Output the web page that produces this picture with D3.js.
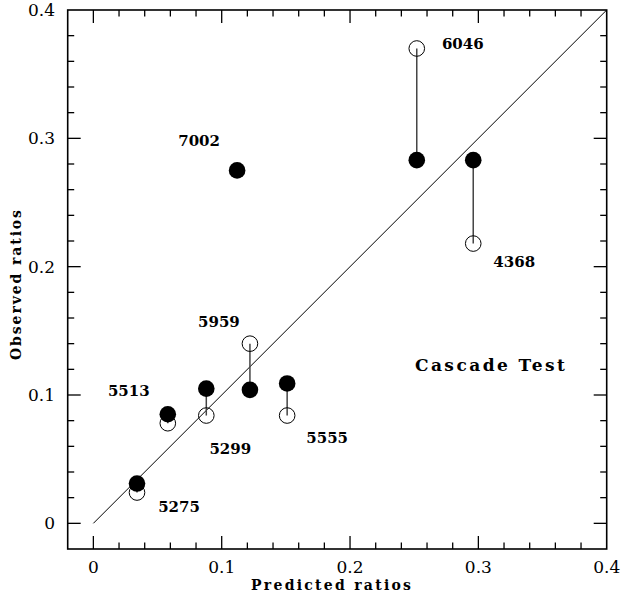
<!DOCTYPE html>
<html>
<head>
<meta charset="utf-8">
<script src="https://cdn.jsdelivr.net/npm/d3@7"></script>
<style>
  body { margin: 0; background: #fff; }
  svg { display: block; }
</style>
</head>
<body>
<div id="chart"></div>
<script>
// galaxy ids, predicted ratio, observed ratio (filled / open markers)
var galaxies   = ["5275", "5513", "5299", "5959", "5555", "7002", "6046", "4368"];
var predicted  = [0.034, 0.058, 0.088, 0.122, 0.151, 0.112, 0.252, 0.296];
var obsFilled  = [0.031, 0.085, 0.105, 0.104, 0.109, 0.275, 0.283, 0.283];
var obsOpen    = [0.024, 0.078, 0.084, 0.140, 0.084, null, 0.370, 0.218];

var majorTicks = [0, 0.1, 0.2, 0.3, 0.4];
var tickLabels = ["0", "0.1", "0.2", "0.3", "0.4"];

// label placement, pixel offset from the filled marker (layout only)
var labelOffsets = [[42, 28], [-39, -18], [24, 65], [-31, -63], [40, 60], [-38, -24], [46, -111], [41, 107]];

var W = 621, H = 597;
// plot box (note: "top" is a reserved window global, so use a box object)
var box = {left: 67.7, right: 606.7, top: 10, bottom: 549};

var svg = d3.select("#chart").append("svg")
    .attr("width", W)
    .attr("height", H);

var x = d3.scaleLinear().domain([-0.02, 0.4]).range([box.left, box.right]);
var y = d3.scaleLinear().domain([-0.02, 0.4]).range([box.bottom, box.top]);

// frame
svg.append("rect")
    .attr("x", box.left).attr("y", box.top)
    .attr("width", box.right - box.left).attr("height", box.bottom - box.top)
    .attr("fill", "none").attr("stroke", "#000").attr("stroke-width", 1.6);

// ticks on all four sides, pointing inward
var minor = d3.range(0, 0.4001, 0.02).map(function (d) { return +d.toFixed(2); });
function isMajor(d) { return Math.abs(d * 10 - Math.round(d * 10)) < 1e-6; }
var tickG = svg.append("g").attr("stroke", "#000").attr("stroke-width", 1.3);
minor.forEach(function (d) {
    var len = isMajor(d) ? 13 : 6.5;
    if (x(d) > box.left + 1 && x(d) < box.right - 1) {
        tickG.append("line").attr("x1", x(d)).attr("x2", x(d)).attr("y1", box.bottom).attr("y2", box.bottom - len);
        tickG.append("line").attr("x1", x(d)).attr("x2", x(d)).attr("y1", box.top).attr("y2", box.top + len);
    }
    if (y(d) > box.top + 1 && y(d) < box.bottom - 1) {
        tickG.append("line").attr("y1", y(d)).attr("y2", y(d)).attr("x1", box.left).attr("x2", box.left + len);
        tickG.append("line").attr("y1", y(d)).attr("y2", y(d)).attr("x1", box.right).attr("x2", box.right - len);
    }
});

// tick labels
svg.selectAll(".xlab").data(majorTicks).enter().append("text")
    .attr("class", "xlab")
    .attr("x", function (d) { return x(d); })
    .attr("y", 573)
    .attr("text-anchor", "middle")
    .style("font-family", "DejaVu Serif")
    .style("font-size", "17px")
    .text(function (d, i) { return tickLabels[i]; });

svg.selectAll(".ylab").data(majorTicks).enter().append("text")
    .attr("class", "ylab")
    .attr("x", 55)
    .attr("y", function (d) { return y(d) + 6; })
    .attr("text-anchor", "end")
    .style("font-family", "DejaVu Serif")
    .style("font-size", "17px")
    .text(function (d, i) { return tickLabels[i]; });

// axis titles
svg.append("text")
    .attr("x", 331)
    .attr("y", 590)
    .attr("text-anchor", "middle")
    .attr("textLength", 160).attr("lengthAdjust", "spacing")
    .style("font-family", "DejaVu Serif")
    .style("font-weight", "bold")
    .style("font-size", "14px")
    .text("Predicted ratios");

svg.append("text")
    .attr("transform", "translate(21,285) rotate(-90)")
    .attr("text-anchor", "middle")
    .attr("textLength", 150).attr("lengthAdjust", "spacing")
    .style("font-family", "DejaVu Serif")
    .style("font-weight", "bold")
    .style("font-size", "14px")
    .text("Observed ratios");

// one-to-one line
svg.append("line")
    .attr("x1", x(0)).attr("y1", y(0))
    .attr("x2", x(0.4)).attr("y2", y(0.4))
    .attr("stroke", "#000").attr("stroke-width", 1);

var pts = galaxies.map(function (g, i) {
    return { id: g, px: predicted[i], f: obsFilled[i], o: obsOpen[i], off: labelOffsets[i] };
});

// connectors between open and filled markers
svg.selectAll(".conn").data(pts.filter(function (d) { return d.o !== null; })).enter().append("line")
    .attr("class", "conn")
    .attr("x1", function (d) { return x(d.px); })
    .attr("x2", function (d) { return x(d.px); })
    .attr("y1", function (d) { return y(d.f); })
    .attr("y2", function (d) { return y(d.o); })
    .attr("stroke", "#444").attr("stroke-width", 1.5);

// open markers
svg.selectAll(".open").data(pts.filter(function (d) { return d.o !== null; })).enter().append("circle")
    .attr("class", "open")
    .attr("cx", function (d) { return x(d.px); })
    .attr("cy", function (d) { return y(d.o); })
    .attr("r", 7.8)
    .attr("fill", "none").attr("stroke", "#000").attr("stroke-width", 1);

// filled markers
svg.selectAll(".filled").data(pts).enter().append("circle")
    .attr("class", "filled")
    .attr("cx", function (d) { return x(d.px); })
    .attr("cy", function (d) { return y(d.f); })
    .attr("r", 8.3)
    .attr("fill", "#000");

// galaxy labels
svg.selectAll(".glab").data(pts).enter().append("text")
    .attr("class", "glab")
    .attr("x", function (d) { return x(d.px) + d.off[0]; })
    .attr("y", function (d) { return y(d.f) + d.off[1]; })
    .attr("text-anchor", "middle")
    .style("font-family", "DejaVu Serif")
    .style("font-weight", "bold")
    .style("font-size", "15px")
    .text(function (d) { return d.id; });

svg.append("text")
    .attr("x", x(0.309))
    .attr("y", y(0.119))
    .attr("text-anchor", "middle")
    .attr("textLength", 150).attr("lengthAdjust", "spacing")
    .style("font-family", "DejaVu Serif")
    .style("font-weight", "bold")
    .style("font-size", "17px")
    .text("Cascade Test");
</script>
</body>
</html>
